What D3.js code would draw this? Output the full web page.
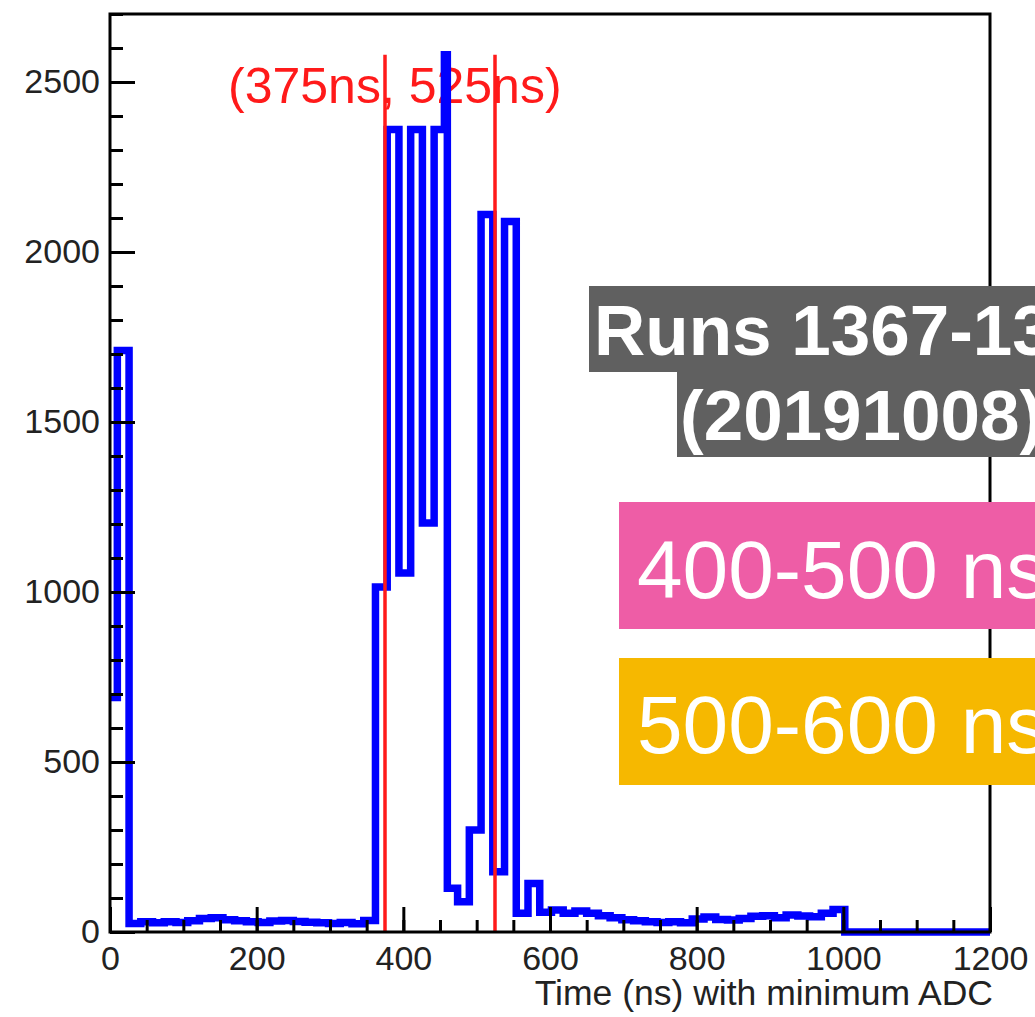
<!DOCTYPE html>
<html>
<head>
<meta charset="utf-8">
<script src="https://cdn.jsdelivr.net/npm/d3@7"></script>
<style>
  html, body { margin: 0; padding: 0; background: #fff; }
  svg { display: block; }
  text { font-family: "Liberation Sans", Arial, Helvetica, sans-serif; }
</style>
</head>
<body>
<svg id="chart" width="1035" height="1017"></svg>
<script>
// Histogram of the time (ns) at which the minimum ADC sample occurs.
// Bin edges in ns; counts[i] belongs to [binEdges[i], binEdges[i+1]).
const binEdges = [
  -6, 10, 26, 42, 58, 74, 90, 106, 122, 138, 154, 170, 186, 202, 218, 234,
  250, 266, 282, 298, 314, 330, 346, 362, 378, 394, 410, 426, 442, 456, 460,
  474, 490, 506, 522, 538, 554, 570, 586, 602, 618, 634, 650, 666, 682, 698,
  714, 730, 746, 762, 778, 794, 810, 826, 842, 858, 874, 890, 906, 922, 938,
  954, 970, 986, 1002, 1200
];
const counts = [
  690, 1710, 25, 30, 27, 30, 28, 33, 40, 42, 36, 33, 30, 28, 32, 34,
  31, 29, 27, 25, 28, 24, 34, 1015, 2360, 1056, 2360, 1203, 2360, 2580,
  129, 89, 300, 2110, 177, 2090, 55, 143, 58, 65, 55, 62, 55, 48, 42,
  36, 33, 30, 28, 30, 27, 38, 44, 37, 35, 40, 46, 48, 42, 50,
  47, 45, 55, 66, 0
];

// Selected time window (ns)
const windowEdges = [375, 525];
const windowLabel = "(375ns, 525ns)";

// Axis ticks
const xMajorTicks = [0, 200, 400, 600, 800, 1000, 1200];
const xMinorTicks = d3.range(0, 1201, 50);
const yMajorTicks = [0, 500, 1000, 1500, 2000, 2500];
const yMinorTicks = d3.range(0, 2701, 100);
const xTitle = "Time (ns) with minimum ADC";

// Annotation boxes
const runLines = ["Runs 1367-13", "(20191008)"];
const rangeTags = [
  { text: "400-500 ns", color: "#EE5DA6" },
  { text: "500-600 ns", color: "#F6B800" }
];

const svg = d3.select("#chart");
const m = { left: 110, right: 990, top: 14, bottom: 932 };

const x = d3.scaleLinear().domain([0, 1200]).range([m.left, m.right]);
const y = d3.scaleLinear().domain([0, 2700]).range([m.bottom, m.top]);

svg.append("rect").attr("width", 1035).attr("height", 1017).attr("fill", "#fff");

svg.append("defs").append("clipPath").attr("id", "plotClip")
  .append("rect")
  .attr("x", m.left).attr("y", 0)
  .attr("width", m.right - m.left).attr("height", m.bottom + 10);

// window label (sits beneath the histogram line)
svg.append("text")
  .attr("x", 228).attr("y", 103)
  .attr("fill", "#ff1a1a")
  .attr("font-size", 50)
  .text(windowLabel);

// histogram outline
const pts = counts.map((c, i) => [binEdges[i], c]);
pts.push([binEdges[binEdges.length - 1], counts[counts.length - 1]]);
const line = d3.line()
  .x(d => x(d[0]))
  .y(d => y(d[1]))
  .curve(d3.curveStepAfter);

svg.append("path")
  .attr("clip-path", "url(#plotClip)")
  .attr("d", line(pts))
  .attr("fill", "none")
  .attr("stroke", "#0000ff")
  .attr("stroke-width", 7.5)
  .attr("stroke-linejoin", "miter");

// window boundaries
const hMax = d3.max(counts);
svg.append("g").selectAll("line")
  .data(windowEdges)
  .join("line")
  .attr("x1", d => x(d)).attr("x2", d => x(d))
  .attr("y1", y(0)).attr("y2", y(hMax))
  .attr("stroke", "#ff1a1a")
  .attr("stroke-width", 3.5);

// axes
const tickFont = 34;
const fmt = d3.format("d");
const yAxis = svg.append("g")
  .attr("transform", `translate(${m.left},0)`)
  .call(d3.axisLeft(y).tickValues(yMajorTicks).tickFormat(fmt).tickSizeInner(-25).tickSizeOuter(0).tickPadding(10));
const yMinor = svg.append("g")
  .attr("transform", `translate(${m.left},0)`)
  .call(d3.axisLeft(y).tickValues(yMinorTicks).tickFormat("").tickSizeInner(-13).tickSizeOuter(0));
const xAxis = svg.append("g")
  .attr("transform", `translate(0,${m.bottom})`)
  .call(d3.axisBottom(x).tickValues(xMajorTicks).tickFormat(fmt).tickSizeInner(-25).tickSizeOuter(0).tickPadding(14));
const xMinor = svg.append("g")
  .attr("transform", `translate(0,${m.bottom})`)
  .call(d3.axisBottom(x).tickValues(xMinorTicks).tickFormat("").tickSizeInner(-12).tickSizeOuter(0));

[yAxis, yMinor, xAxis, xMinor].forEach(g => {
  g.select(".domain").remove();
  g.selectAll(".tick line").attr("stroke", "#000").attr("stroke-width", 3);
  g.selectAll(".tick text")
    .attr("font-family", "Liberation Sans, Arial, sans-serif")
    .attr("font-size", tickFont)
    .attr("fill", "#222");
});

// frame
svg.append("rect")
  .attr("x", m.left).attr("y", m.top)
  .attr("width", m.right - m.left).attr("height", m.bottom - m.top)
  .attr("fill", "none").attr("stroke", "#000").attr("stroke-width", 3);

svg.append("text")
  .attr("x", 993).attr("y", 1005)
  .attr("text-anchor", "end")
  .attr("font-size", 35.5)
  .attr("fill", "#222")
  .text(xTitle);

// run annotation
const runBoxes = [
  { x: 589, y: 286, h: 86, tx: 594, ty: 355 },
  { x: 677, y: 372, h: 85, tx: 680, ty: 440 }
];
runBoxes.forEach((b, i) => {
  svg.append("rect").attr("x", b.x).attr("y", b.y)
    .attr("width", 1035 - b.x).attr("height", b.h).attr("fill", "#606060");
  svg.append("text").attr("x", b.tx).attr("y", b.ty)
    .attr("font-size", 71).attr("font-weight", "bold").attr("fill", "#fff")
    .text(runLines[i]);
});

// time-range tags
const tagBoxes = [
  { y: 502, ty: 598 },
  { y: 658, ty: 753 }
];
rangeTags.forEach((t, i) => {
  svg.append("rect").attr("x", 619).attr("y", tagBoxes[i].y)
    .attr("width", 1035 - 619).attr("height", 127).attr("fill", t.color);
  svg.append("text").attr("x", 637).attr("y", tagBoxes[i].ty)
    .attr("font-size", 82).attr("fill", "#fff")
    .text(t.text);
});
</script>
</body>
</html>
